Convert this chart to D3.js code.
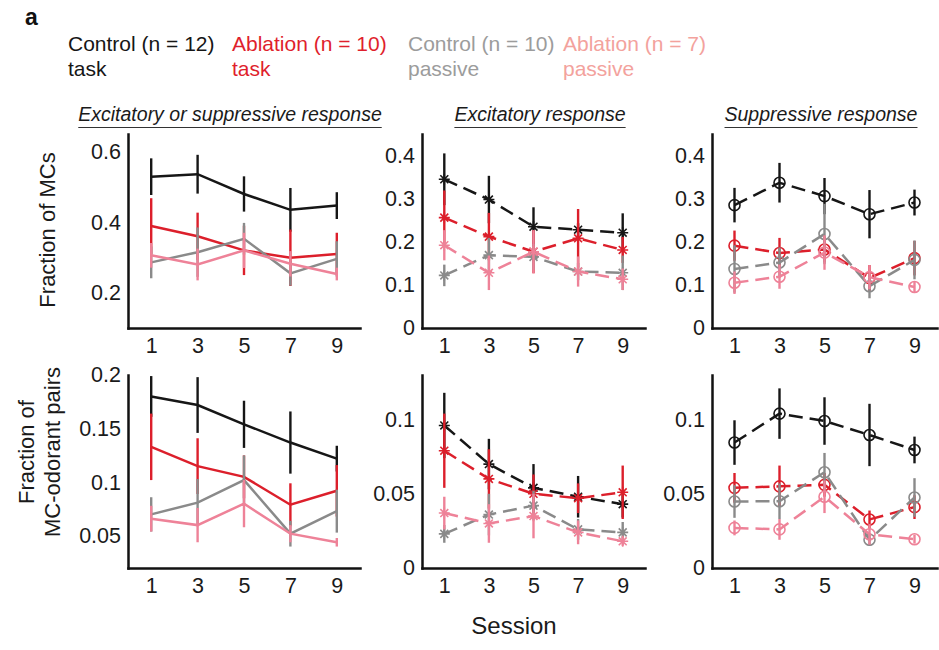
<!DOCTYPE html>
<html>
<head>
<meta charset="utf-8">
<script src="https://cdn.jsdelivr.net/npm/d3@7"></script>
<style>
  body { margin: 0; background: #fff; }
  svg { display: block; }
  text { font-family: "Liberation Sans", Arial, Helvetica, sans-serif; }
</style>
</head>
<body>
<svg id="chart" width="939" height="650"></svg>
<script>
var sessions = [1, 3, 5, 7, 9];
var groupNames = ['Control (n = 12)', 'Ablation (n = 10)', 'Control (n = 10)', 'Ablation (n = 7)'];
var groupKinds = ['task', 'task', 'passive', 'passive'];
var lineColors = ['#161616', '#dc1f2b', '#8a8a8a', '#ee8298'];
var textColors = ['#161616', '#df1f2d', '#9c9c9c', '#f3a29d'];
var panelTitles = ['Excitatory or suppressive response', 'Excitatory response', 'Suppressive response'];

// rows: control task, ablation task, control passive, ablation passive
var mcsAnyMean = [[0.529, 0.536, 0.480, 0.435, 0.447], [0.389, 0.360, 0.320, 0.299, 0.310], [0.286, 0.315, 0.353, 0.255, 0.296], [0.306, 0.280, 0.320, 0.282, 0.253]];
var mcsAnyErr = [[0.052, 0.055, 0.050, 0.062, 0.038], [0.079, 0.067, 0.070, 0.080, 0.060], [0.045, 0.070, 0.045, 0.035, 0.050], [0.035, 0.045, 0.050, 0.036, 0.018]];
var mcsExcMean = [[0.345, 0.298, 0.235, 0.228, 0.221], [0.256, 0.212, 0.177, 0.208, 0.181], [0.122, 0.169, 0.165, 0.131, 0.128], [0.192, 0.128, 0.177, 0.131, 0.113]];
var mcsExcErr = [[0.060, 0.055, 0.045, 0.015, 0.045], [0.063, 0.055, 0.050, 0.068, 0.030], [0.025, 0.040, 0.030, 0.020, 0.040], [0.035, 0.040, 0.050, 0.035, 0.025]];
var mcsSupMean = [[0.285, 0.337, 0.306, 0.264, 0.291], [0.191, 0.174, 0.182, 0.116, 0.162], [0.137, 0.152, 0.218, 0.097, 0.158], [0.105, 0.119, 0.175, 0.118, 0.095]];
var mcsSupErr = [[0.040, 0.046, 0.042, 0.056, 0.030], [0.035, 0.035, 0.030, 0.030, 0.040], [0.055, 0.035, 0.070, 0.028, 0.045], [0.026, 0.028, 0.040, 0.028, 0.013]];
var pairsAnyMean = [[0.180, 0.172, 0.154, 0.137, 0.122], [0.133, 0.115, 0.105, 0.079, 0.092], [0.070, 0.081, 0.102, 0.052, 0.073], [0.066, 0.060, 0.080, 0.052, 0.044]];
var pairsAnyErr = [[0.019, 0.026, 0.022, 0.029, 0.012], [0.031, 0.026, 0.020, 0.020, 0.024], [0.016, 0.022, 0.023, 0.012, 0.020], [0.012, 0.016, 0.022, 0.008, 0.004]];
var pairsExcMean = [[0.096, 0.070, 0.054, 0.048, 0.043], [0.079, 0.060, 0.050, 0.047, 0.051], [0.023, 0.036, 0.042, 0.026, 0.024], [0.037, 0.030, 0.035, 0.024, 0.018]];
var pairsExcErr = [[0.022, 0.017, 0.016, 0.014, 0.009], [0.025, 0.020, 0.013, 0.010, 0.018], [0.006, 0.014, 0.010, 0.007, 0.007], [0.011, 0.013, 0.015, 0.008, 0.003]];
var pairsSupMean = [[0.0845, 0.104, 0.099, 0.0896, 0.0795], [0.054, 0.055, 0.056, 0.0327, 0.041], [0.0448, 0.045, 0.0645, 0.019, 0.0475], [0.027, 0.026, 0.048, 0.0227, 0.0194]];
var pairsSupErr = [[0.015, 0.017, 0.016, 0.021, 0.009], [0.010, 0.014, 0.008, 0.006, 0.008], [0.011, 0.012, 0.013, 0.004, 0.013], [0.005, 0.007, 0.011, 0.007, 0.003]];

var ticksMcsAny = [0.2, 0.4, 0.6];
var ticksMcsSplit = [0, 0.1, 0.2, 0.3, 0.4];
var ticksPairsAny = [0.05, 0.1, 0.15, 0.2];
var ticksPairsSplit = [0, 0.05, 0.1];

var svg = d3.select('#chart');
var colX = [[128, 360], [422, 645], [712, 937]];
var rowY = [[328, 134], [568, 375]];

var panels = [
    { mean: mcsAnyMean, err: mcsAnyErr, col: 0, row: 0, domain: [0.1, 0.65], ticks: ticksMcsAny, marker: null },
    { mean: mcsExcMean, err: mcsExcErr, col: 1, row: 0, domain: [0, 0.45], ticks: ticksMcsSplit, marker: 'star' },
    { mean: mcsSupMean, err: mcsSupErr, col: 2, row: 0, domain: [0, 0.45], ticks: ticksMcsSplit, marker: 'circle' },
    { mean: pairsAnyMean, err: pairsAnyErr, col: 0, row: 1, domain: [0.02, 0.2], ticks: ticksPairsAny, marker: null },
    { mean: pairsExcMean, err: pairsExcErr, col: 1, row: 1, domain: [0, 0.13], ticks: ticksPairsSplit, marker: 'star' },
    { mean: pairsSupMean, err: pairsSupErr, col: 2, row: 1, domain: [0, 0.13], ticks: ticksPairsSplit, marker: 'circle' },
];

function starPath(r) {
    var d = r * 0.72;
    return 'M' + (-r) + ',0H' + r + 'M0,' + (-r) + 'V' + r +
        'M' + (-d) + ',' + (-d) + 'L' + d + ',' + d + 'M' + (-d) + ',' + d + 'L' + d + ',' + (-d);
}

panels.forEach(function(p) {
    var x = d3.scaleLinear().domain([0, 10]).range(colX[p.col]);
    var y = d3.scaleLinear().domain(p.domain).range(rowY[p.row]);
    var g = svg.append('g');

    var xAxis = g.append('g')
        .attr('transform', 'translate(0,' + rowY[p.row][0] + ')')
        .call(d3.axisBottom(x).tickValues(sessions).tickSize(0).tickPadding(10));
    var yAxis = g.append('g')
        .attr('transform', 'translate(' + colX[p.col][0] + ',0)')
        .call(d3.axisLeft(y).tickValues(p.ticks).tickFormat(d3.format('~g')).tickSize(0).tickPadding(7));
    [xAxis, yAxis].forEach(function(a) {
        a.select('.domain').attr('stroke', '#111').attr('stroke-width', 2.5).attr('stroke-linecap', 'square');
        a.selectAll('text').attr('font-size', 21.5).attr('fill', '#1a1a1a')
            .style('font-family', '"Liberation Sans", Arial, sans-serif');
    });

    var line = d3.line().x(d => x(d.s)).y(d => y(d.v));

    p.mean.forEach(function(vals, i) {
        var pts = sessions.map((s, j) => ({ s: s, v: vals[j], e: p.err[i][j] }));
        var color = lineColors[i];
        var sg = g.append('g');

        sg.selectAll('line.err').data(pts).enter().append('line')
            .attr('class', 'err')
            .attr('x1', d => x(d.s)).attr('x2', d => x(d.s))
            .attr('y1', d => y(d.v - d.e)).attr('y2', d => y(d.v + d.e))
            .attr('stroke', color).attr('stroke-width', 2.4);

        sg.append('path').datum(pts)
            .attr('d', line)
            .attr('fill', 'none')
            .attr('stroke', color)
            .attr('stroke-width', 2.5)
            .attr('stroke-dasharray', p.marker ? '14,7' : null);

        if (p.marker === 'star') {
            sg.selectAll('path.mk').data(pts).enter().append('path')
                .attr('class', 'mk')
                .attr('transform', d => 'translate(' + x(d.s) + ',' + y(d.v) + ')')
                .attr('d', starPath(5.5))
                .attr('fill', 'none').attr('stroke', color).attr('stroke-width', 1.6);
        } else if (p.marker === 'circle') {
            sg.selectAll('circle.mk').data(pts).enter().append('circle')
                .attr('class', 'mk')
                .attr('cx', d => x(d.s)).attr('cy', d => y(d.v)).attr('r', 5.5)
                .attr('fill', 'none').attr('stroke', color).attr('stroke-width', 1.6);
        }
    });
});

// panel titles, italic and underlined
panelTitles.forEach(function(t, c) {
    var cx = [230, 540, 821][c];
    var txt = svg.append('text')
        .attr('x', cx).attr('y', 121)
        .attr('text-anchor', 'middle')
        .attr('font-size', 19.5).attr('font-style', 'italic')
        .attr('fill', '#1a1a1a')
        .text(t);
    var w = txt.node().getComputedTextLength();
    svg.append('line')
        .attr('x1', cx - w / 2).attr('x2', cx + w / 2)
        .attr('y1', 127.5).attr('y2', 127.5)
        .attr('stroke', '#333').attr('stroke-width', 1.2);
});

// panel letter and legend
svg.append('text').attr('x', 25).attr('y', 25)
    .attr('font-size', 23).attr('font-weight', 'bold').attr('fill', '#111').text('a');

var legendX = [68, 232, 408, 563];
groupNames.forEach(function(n, i) {
    var t = svg.append('text').attr('x', legendX[i]).attr('y', 51)
        .attr('font-size', 21).attr('fill', textColors[i]);
    t.append('tspan').attr('x', legendX[i]).text(n);
    t.append('tspan').attr('x', legendX[i]).attr('dy', 25).text(groupKinds[i]);
});

// axis labels
svg.append('text')
    .attr('transform', 'translate(55,230) rotate(-90)')
    .attr('text-anchor', 'middle')
    .attr('font-size', 22).attr('fill', '#1a1a1a')
    .text('Fraction of MCs');

var pairLabel = svg.append('text')
    .attr('transform', 'translate(34,452) rotate(-90)')
    .attr('text-anchor', 'middle')
    .attr('font-size', 22).attr('fill', '#1a1a1a');
pairLabel.append('tspan').attr('x', 0).text('Fraction of');
pairLabel.append('tspan').attr('x', 0).attr('dy', 26).text('MC-odorant pairs');

svg.append('text')
    .attr('x', 514).attr('y', 634)
    .attr('text-anchor', 'middle')
    .attr('font-size', 24).attr('fill', '#1a1a1a')
    .text('Session');
</script>
</body>
</html>
